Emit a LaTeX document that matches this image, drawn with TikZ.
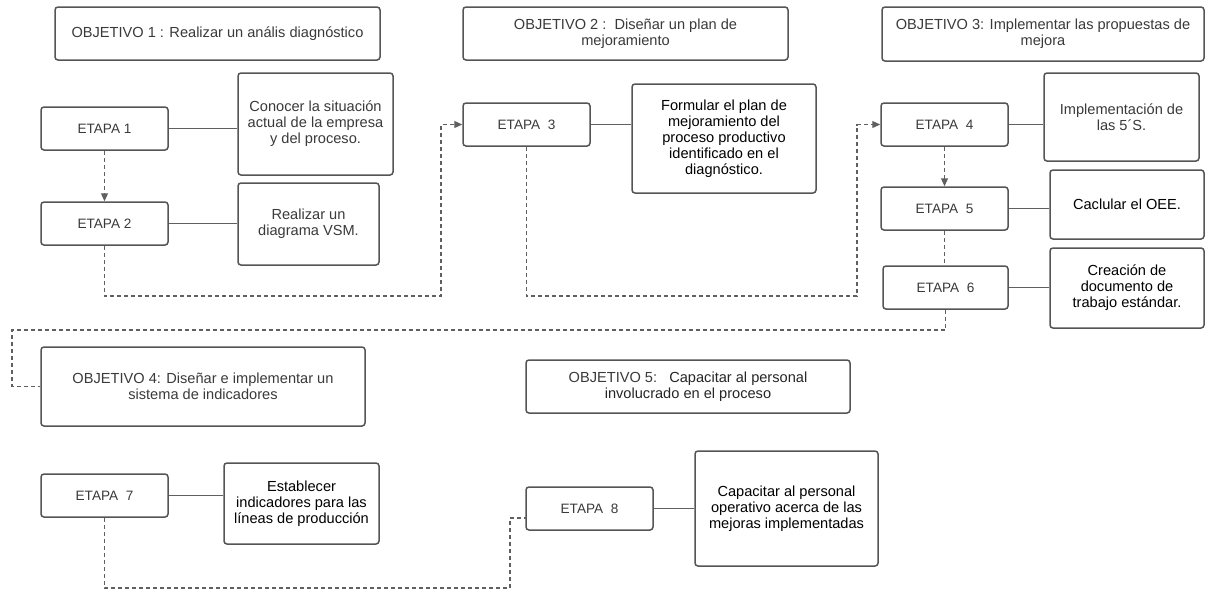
\documentclass[tikz,border=0pt]{standalone}
\usepackage{fontspec}
\setmainfont{Liberation Sans}
\usetikzlibrary{arrows.meta}
\definecolor{bordergray}{HTML}{555555}
\definecolor{txtgray}{HTML}{3A3A3A}
\definecolor{linegray}{HTML}{606060}
\tikzset{
  box/.style={draw=bordergray, line width=1.5pt, rounded corners=3pt, fill=white,
    align=center, inner sep=2pt, font=\fontsize{14.6}{16}\selectfont, text=txtgray},
  etapa/.style={box, minimum width=127pt, minimum height=43pt, font=\fontsize{13.6}{16}\selectfont},
  dk/.style={text=black},
  link/.style={draw=linegray, line width=1.2pt},
  dashline/.style={draw=linegray, line width=1.1pt, dash pattern=on 4pt off 3pt},
  arr/.style={-{Triangle[length=8pt,width=7pt]}}
}
\begin{document}
\begin{tikzpicture}[x=1pt,y=-1pt]
\useasboundingbox (0,0) rectangle (1206,590);
% objectives
\node[box, minimum width=325pt, minimum height=53pt] (obj1) at (217.5,33.5) {OBJETIVO 1 : Realizar un anális diagnóstico};
\node[box, minimum width=325pt, minimum height=53pt] (obj2) at (625.5,33.5) {OBJETIVO 2 :\ \ Diseñar un plan de\\mejoramiento};
\node[box, minimum width=322pt, minimum height=54pt] (obj3) at (1043,34) {OBJETIVO 3: Implementar las propuestas de\\mejora};
\node[box, minimum width=324pt, minimum height=79pt] (obj4) at (203,386.5) {OBJETIVO 4: Diseñar e implementar un\\sistema de indicadores};
\node[box, minimum width=324pt, minimum height=53pt] (obj5) at (688,386.5) {OBJETIVO 5:\ \ \ {\color{black!85}Capacitar al personal}\\{\color{black!85}involucrado en el proceso}};
% etapas
\node[etapa] (e1) at (104.5,128.5) {ETAPA 1};
\node[etapa] (e2) at (104.5,223.5) {ETAPA 2};
\node[etapa] (e3) at (526.5,124.5) {ETAPA\ \ 3};
\node[etapa] (e4) at (944.5,124.5) {ETAPA\ \ 4};
\node[etapa] (e5) at (944.5,208.5) {ETAPA\ \ 5};
\node[etapa, minimum width=125pt] (e6) at (945.5,287.5) {ETAPA\ \ 6};
\node[etapa] (e7) at (104.5,495.5) {ETAPA\ \ 7};
\node[etapa] (e8) at (589.5,508.5) {ETAPA\ \ 8};
% descriptions
\node[box, minimum width=155pt, minimum height=102pt] (b1) at (315.5,124) {Conocer la situación\\actual de la empresa\\y del proceso.};
\node[box, minimum width=141pt, minimum height=82pt] (b2) at (308.5,224) {Realizar un\\diagrama VSM.};
\node[box, dk, minimum width=184pt, minimum height=109pt] (b3) at (724,138.5) {Formular el plan de\\mejoramiento del\\proceso productivo\\identificado en el\\diagnóstico.};
\node[box, minimum width=155pt, minimum height=88pt] (b4) at (1121.5,117) {Implementación de\\las 5´S.};
\node[box, dk, minimum width=154pt, minimum height=69pt] (b5) at (1127,204.5) {Caclular el OEE.};
\node[box, dk, minimum width=154pt, minimum height=80pt] (b6) at (1127,288) {Creación de\\documento de\\trabajo estándar.};
\node[box, dk, minimum width=155pt, minimum height=81pt] (b7) at (301.5,503.5) {Establecer\\indicadores para las\\líneas de producción};
\node[box, dk, minimum width=183pt, minimum height=115pt] (b8) at (786.5,508.5) {Capacitar al personal\\operativo acerca de las\\mejoras implementadas};
% solid links
\draw[link] (e1.east) -- (e1.east -| b1.west);
\draw[link] (e2.east) -- (e2.east -| b2.west);
\draw[link] (e3.east) -- (e3.east -| b3.west);
\draw[link] (e4.east) -- (e4.east -| b4.west);
\draw[link] (e5.east) -- (e5.east -| b5.west);
\draw[link] (e6.east) -- (e6.east -| b6.west);
\draw[link] (e7.east) -- (e7.east -| b7.west);
\draw[link] (e8.east) -- (e8.east -| b8.west);
% dashed flow
\coordinate (c1) at (441,296);
\coordinate (c2) at (857,296);
\coordinate (c3) at (12,330);
\coordinate (c4) at (510,588);
\coordinate (c5) at (526,518);
\draw[dashline, arr] (e1.south) -- (e2.north);
\draw[dashline, arr] (e2.south) |- (c1) |- (e3.west);
\draw[dashline, arr] (e3.south) |- (c2) |- (e4.west);
\draw[dashline, arr] (e4.south) -- (e5.north);
\draw[dashline] (e5.south) -- (e5.south |- e6.north);
\draw[dashline] (e6.south) |- (c3) |- (obj4.west);
\draw[dashline] (e7.south) |- (c4) |- (c5);
\end{tikzpicture}
\end{document}
